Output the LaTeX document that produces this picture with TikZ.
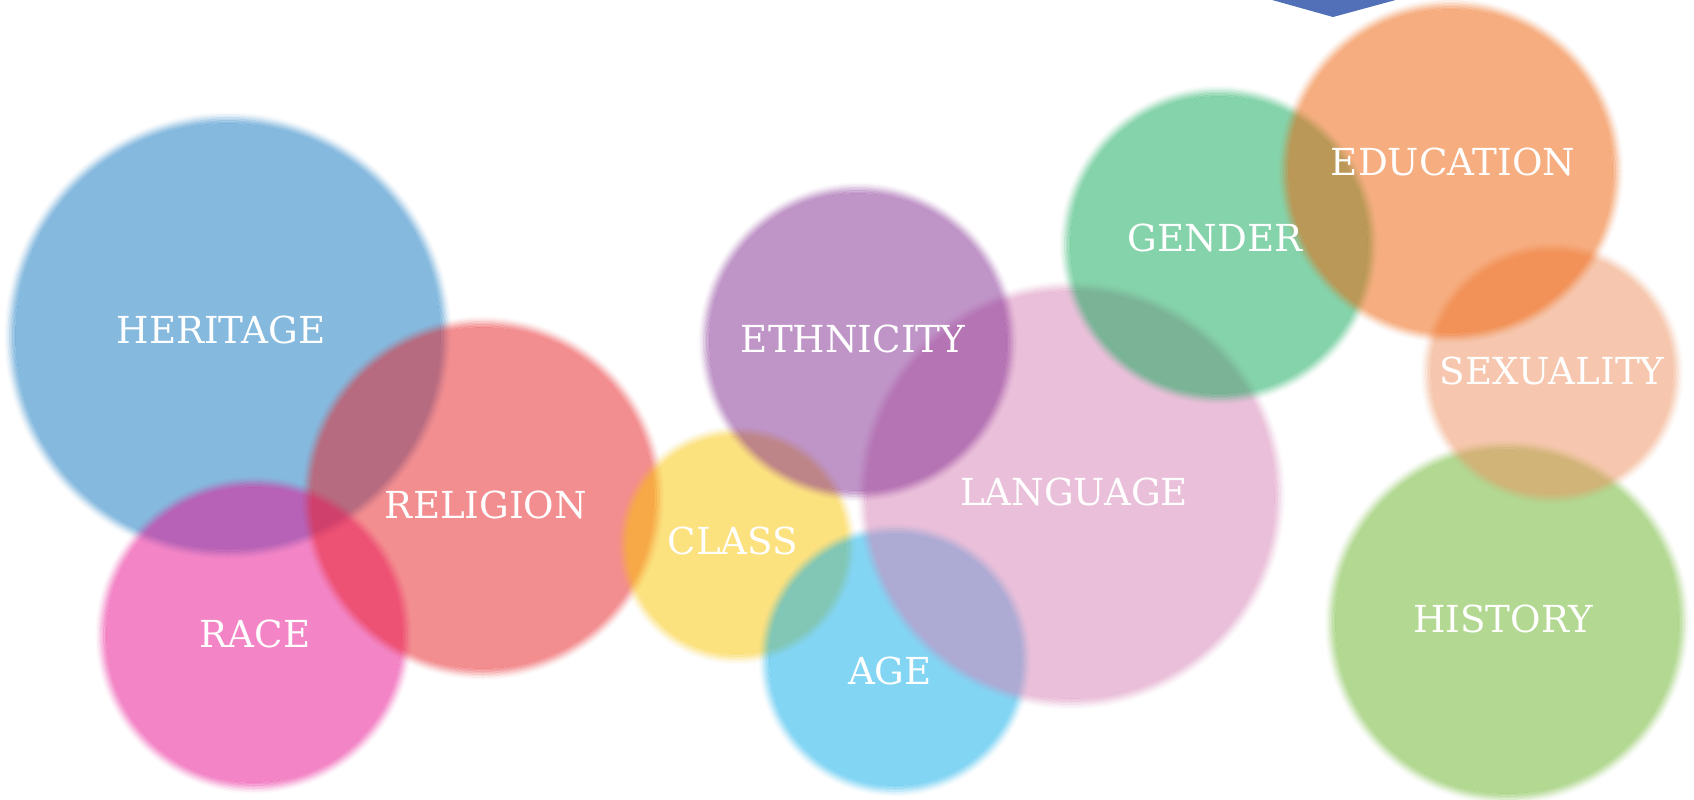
\documentclass[tikz,border=0pt]{standalone}
\usepackage{fontspec}
\setmainfont{DejaVu Serif}
\definecolor{cHer}{RGB}{13,117,191}
\definecolor{cRel}{RGB}{233,31,35}
\definecolor{cRac}{RGB}{233,13,143}
\definecolor{cCla}{RGB}{251,197,0}
\definecolor{cEth}{RGB}{129,43,145}
\definecolor{cLan}{RGB}{215,129,181}
\definecolor{cAge}{RGB}{9,173,235}
\definecolor{cGen}{RGB}{13,169,87}
\definecolor{cEdu}{RGB}{239,95,5}
\definecolor{cSex}{RGB}{239,145,95}
\definecolor{cHis}{RGB}{103,179,39}
\definecolor{cTop}{RGB}{81,112,184}
\tikzset{
  lbl/.style={text=white, font=\fontsize{18.6}{20}\selectfont, inner sep=0pt, anchor=center}
}
% soft-edged bubble: core disc plus thin annuli of falling opacity
\newcommand\softbubble[4]{%
  \fill[#1, fill opacity=0.5] (#2,#3) circle[radius=#4-5];
  \foreach \a/\b/\o in {-5/-3.5/0.45, -3.5/-2/0.38, -2/-0.5/0.3, -0.5/1/0.22, 1/2.5/0.14, 2.5/4/0.08, 4/5.5/0.03}{
    \fill[#1, fill opacity=\o, even odd rule] (#2,#3) circle[radius=#4+\b] (#2,#3) circle[radius=#4+\a];
  }%
}
\begin{document}
\begin{tikzpicture}[x=0.5pt,y=-0.5pt]
\useasboundingbox (0,0) rectangle (1694,799);
\fill[white] (0,0) rectangle (1694,799);
% top chevron
\fill[cTop] (1265,-2) -- (1403,-2) -- (1333,17) -- cycle;
% bubbles
\softbubble{cHer}{228}{336}{218}
\softbubble{cRac}{254}{635}{153}
\softbubble{cRel}{483}{498}{176}
\softbubble{cCla}{737}{545}{114}
\softbubble{cAge}{895}{660}{131}
\softbubble{cLan}{1071}{495}{209}
\softbubble{cEth}{858}{342}{154}
\softbubble{cGen}{1219}{245}{154}
\softbubble{cHis}{1507}{622}{177}
\softbubble{cSex}{1552}{373}{126}
\softbubble{cEdu}{1451}{171}{167}
% labels
\node[lbl] (heritage) at (221,330) {HERITAGE};
\node[lbl] (religion) at (486,505) {RELIGION};
\node[lbl] (race) at (255,634) {RACE};
\node[lbl] (class) at (733,541) {CLASS};
\node[lbl] (ethnicity) at (853,339) {ETHNICITY};
\node[lbl] (language) at (1074,492) {LANGUAGE};
\node[lbl] (age) at (890,671) {AGE};
\node[lbl] (gender) at (1215,238) {GENDER};
\node[lbl] (education) at (1453,162) {EDUCATION};
\node[lbl] (sexuality) at (1552,371) {SEXUALITY};
\node[lbl] (history) at (1503,619) {HISTORY};
\end{tikzpicture}
\end{document}
